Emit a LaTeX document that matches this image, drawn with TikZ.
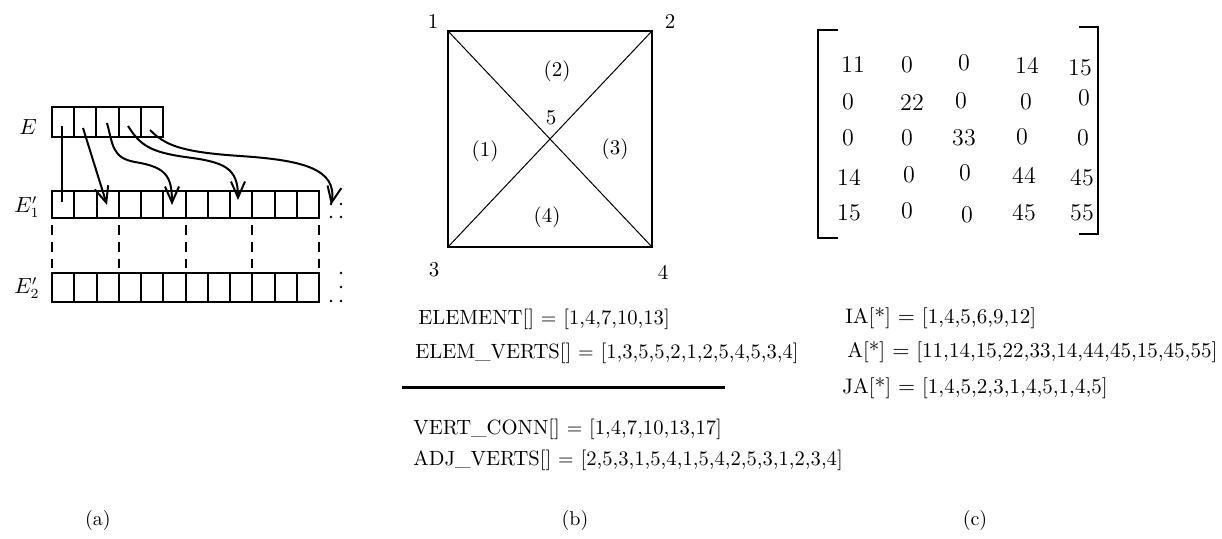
\documentclass[tikz,border=0pt]{standalone}
\usetikzlibrary{arrows.meta}
\begin{document}
\begin{tikzpicture}[x=0.5pt,y=-0.5pt,
  cellline/.style={line width=1pt},
  flow/.style={line width=1pt,-{Straight Barb[length=8pt,width=7pt,line width=1pt]}},
  plainflow/.style={line width=1pt},
  guide/.style={line width=1pt,dash pattern=on 5pt off 3.5pt},
  edgethick/.style={line width=1.2pt},
  diag/.style={line width=0.5pt},
  bracket/.style={line width=1.4pt},
  lbl/.style={inner sep=0pt,font=\fontsize{10.5}{12}\selectfont},
  txt/.style={inner sep=0pt,anchor=west,font=\fontsize{10.5}{12}\selectfont},
  txtb/.style={inner sep=0pt,anchor=west,font=\fontsize{10.3}{12}\selectfont},
  ent/.style={inner sep=0pt,font=\fontsize{12}{14}\selectfont},
  subcap/.style={inner sep=0pt,font=\fontsize{10}{12}\selectfont}]
\useasboundingbox (0,0) rectangle (1222,539);

% ---------- panel (a) ----------
\node[lbl] (lE) at (28,127) {$E$};
\node[lbl] (lE1) at (27,207) {$E'_1$};
\node[lbl] (lE2) at (27,288) {$E'_2$};

\draw[cellline] (52,107) rectangle (163,137);
\foreach \i in {1,...,4} \draw[cellline] ({52+\i*22.2},107) -- ++(0,30);
\draw[cellline] (52,191) rectangle (319,218);
\foreach \i in {1,...,11} \draw[cellline] ({52+\i*22.25},191) -- ++(0,27);
\draw[cellline] (52,273) rectangle (319,302);
\foreach \i in {1,...,11} \draw[cellline] ({52+\i*22.25},273) -- ++(0,29);

\foreach \x in {52,119,185.5,252,319} \draw[guide] (\x,225) -- (\x,268);

\foreach \p in {(331,204),(341,204),(331,217),(341,217),(341,273),(341,287),(331,301),(341,301)}
  \fill \p circle (1.3);

\coordinate (s1) at (62,126); \coordinate (t1) at (62,202);
\coordinate (s2) at (83,128); \coordinate (t2) at (107,205);
\coordinate (s3) at (107,123); \coordinate (t3) at (172,205);
\coordinate (s4) at (128,126); \coordinate (t4) at (238,200);
\coordinate (s5) at (150,130); \coordinate (t5) at (331,205);
\draw[plainflow] (s1) -- (t1);
\draw[flow] (s2) -- (t2);
\draw[flow] (s3) .. controls (113,145) and (112,158) .. (135,162) .. controls (165,167) and (172,175) .. (t3);
\draw[flow] (s4) .. controls (140,145) and (150,152) .. (185,157) .. controls (225,162) and (238,168) .. (t4);
\draw[flow] (s5) .. controls (165,145) and (180,152) .. (240,156) .. controls (300,160) and (338,168) .. (t5);

\node[subcap] (ca) at (98,521) {(a)};

% ---------- panel (b) ----------
\coordinate (v1) at (448,31);
\coordinate (v2) at (652,31);
\coordinate (v3) at (448,247);
\coordinate (v4) at (652,247);
\draw[edgethick] (v1) -- (v2) -- (v4) -- (v3) -- cycle;
\draw[diag] (v1) -- (v4);
\draw[diag] (v2) -- (v3);
\node[lbl] (n1) at (433,22) {1};
\node[lbl] (n2) at (670,22) {2};
\node[lbl] (n3) at (434,270) {3};
\node[lbl] (n4) at (663,272) {4};
\node[lbl] (n5) at (551,118) {5};
\node[lbl] (e2) at (557,71) {(2)};
\node[lbl] (e1) at (485,151) {(1)};
\node[lbl] (e3) at (615,149) {(3)};
\node[lbl] (e4) at (547,217) {(4)};

\node[txtb] (t_el) at (418,319) {ELEMENT[] $=$ [1,4,7,10,13]};
\node[txtb] (t_ev) at (415,353) {ELEM\_VERTS[] $=$ [1,3,5,5,2,1,2,5,4,5,3,4]};
\draw[line width=1.5pt] (402,388) -- (725,388);
\node[txtb] (t_vc) at (413,429) {VERT\_CONN[] $=$ [1,4,7,10,13,17]};
\node[txtb] (t_av) at (413,460) {ADJ\_VERTS[] $=$ [2,5,3,1,5,4,1,5,4,2,5,3,1,2,3,4]};

\node[subcap] (cb) at (575,521) {(b)};

% ---------- panel (c) ----------
\draw[bracket] (838,30) -- (818,30) -- (818,238) -- (838,238);
\draw[bracket] (1079,27) -- (1098,27) -- (1098,234) -- (1079,234);

\node[ent] (m11) at (853,65) {11};
\node[ent] (m12) at (907,65) {0};
\node[ent] (m13) at (964,63) {0};
\node[ent] (m14) at (1027,65) {14};
\node[ent] (m15) at (1080,68) {15};
\node[ent] (m21) at (848,102) {0};
\node[ent] (m22) at (912,103) {22};
\node[ent] (m23) at (961,101) {0};
\node[ent] (m24) at (1026,102) {0};
\node[ent] (m25) at (1084,98) {0};
\node[ent] (m31) at (848,138) {0};
\node[ent] (m32) at (907,138) {0};
\node[ent] (m33) at (964,138) {33};
\node[ent] (m34) at (1022,137) {0};
\node[ent] (m35) at (1083,138) {0};
\node[ent] (m41) at (849,177) {14};
\node[ent] (m42) at (909,175) {0};
\node[ent] (m43) at (965,173) {0};
\node[ent] (m44) at (1024,175) {44};
\node[ent] (m45) at (1082,178) {45};
\node[ent] (m51) at (849,213) {15};
\node[ent] (m52) at (907,211) {0};
\node[ent] (m53) at (967,215) {0};
\node[ent] (m54) at (1024,213) {45};
\node[ent] (m55) at (1082,213) {55};

\node[txt] (t_ia) at (845,318) {IA[*] $=$ [1,4,5,6,9,12]};
\node[txt] (t_a) at (847,352) {A[*] $=$ [11,14,15,22,33,14,44,45,15,45,55]};
\node[txt] (t_ja) at (842,388) {JA[*] $=$ [1,4,5,2,3,1,4,5,1,4,5]};

\node[subcap] (cc) at (975,521) {(c)};
\end{tikzpicture}
\end{document}
